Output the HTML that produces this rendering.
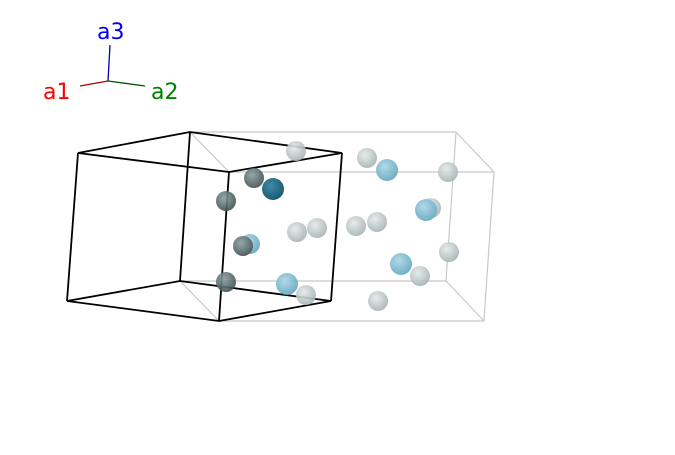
<!DOCTYPE html>
<html><head><meta charset="utf-8"><style>
html,body{margin:0;padding:0;background:#fff;width:675px;height:455px;overflow:hidden}
svg{display:block}
text{font-family:"DejaVu Sans","Liberation Sans",sans-serif;font-size:22px}
</style></head><body>
<svg width="675" height="455" viewBox="0 0 675 455">
<defs>
<radialGradient id="lg" cx="0.4" cy="0.35" r="0.7"><stop offset="0" stop-color="#e4eaea"/><stop offset="1" stop-color="#a4b0b0"/></radialGradient>
<radialGradient id="lb" cx="0.4" cy="0.35" r="0.7"><stop offset="0" stop-color="#a8d6e6"/><stop offset="1" stop-color="#5ea4bc"/></radialGradient>
<radialGradient id="dg" cx="0.4" cy="0.35" r="0.7"><stop offset="0" stop-color="#8a9ea0"/><stop offset="1" stop-color="#3c4c4e"/></radialGradient>
<radialGradient id="dt" cx="0.4" cy="0.35" r="0.7"><stop offset="0" stop-color="#2a7e9c"/><stop offset="1" stop-color="#00465e"/></radialGradient>
</defs>
<g stroke="#c8c8c8" stroke-width="1.2" fill="none">
<line x1="190" y1="132" x2="456" y2="132"/><line x1="456" y1="132" x2="494" y2="172"/>
<line x1="494" y1="172" x2="484" y2="321"/><line x1="456" y1="132" x2="446" y2="281"/>
<line x1="446" y1="281" x2="484" y2="321"/><line x1="219" y1="321" x2="484" y2="321"/>
<line x1="229" y1="172" x2="494" y2="172"/><line x1="180" y1="281" x2="446" y2="281"/>
<line x1="190" y1="132" x2="229" y2="172"/><line x1="180" y1="281" x2="219" y2="321"/>
</g>
<g stroke="#000" stroke-width="1.8" fill="none">
<polygon points="78,153 190,132 342,153 229,172"/>
<polygon points="67,301 180,281 331,301 219,321"/>
<line x1="78" y1="153" x2="67" y2="301"/><line x1="190" y1="132" x2="180" y2="281"/>
<line x1="342" y1="153" x2="331" y2="301"/><line x1="229" y1="172" x2="219" y2="321"/>
</g>
<g opacity="0.9">
<circle cx="296" cy="151" r="10" fill="url(#lg)"/>
<circle cx="367" cy="158" r="10" fill="url(#lg)"/>
<circle cx="387" cy="170" r="11" fill="url(#lb)"/>
<circle cx="448" cy="172" r="10" fill="url(#lg)"/>
<circle cx="254" cy="178" r="10" fill="url(#dg)"/>
<circle cx="273" cy="189" r="11" fill="url(#dt)"/>
<circle cx="226" cy="201" r="10" fill="url(#dg)"/>
<circle cx="431" cy="208" r="10" fill="url(#lg)"/>
<circle cx="426" cy="210" r="11" fill="url(#lb)"/>
<circle cx="297" cy="232" r="10" fill="url(#lg)"/>
<circle cx="317" cy="228" r="10" fill="url(#lg)"/>
<circle cx="356" cy="226" r="10" fill="url(#lg)"/>
<circle cx="377" cy="222" r="10" fill="url(#lg)"/>
<circle cx="250" cy="244" r="10" fill="url(#lb)"/>
<circle cx="243" cy="246" r="10" fill="url(#dg)"/>
<circle cx="449" cy="252" r="10" fill="url(#lg)"/>
<circle cx="401" cy="264" r="11" fill="url(#lb)"/>
<circle cx="420" cy="276" r="10" fill="url(#lg)"/>
<circle cx="226" cy="282" r="10" fill="url(#dg)"/>
<circle cx="287" cy="284" r="11" fill="url(#lb)"/>
<circle cx="306" cy="295" r="10" fill="url(#lg)"/>
<circle cx="378" cy="301" r="10" fill="url(#lg)"/>
</g>
<line x1="108" y1="81" x2="110" y2="45" stroke="#0000aa" stroke-width="1.3"/>
<line x1="108" y1="81" x2="80" y2="86" stroke="#aa0000" stroke-width="1.3"/>
<line x1="108" y1="81" x2="145" y2="86" stroke="#005500" stroke-width="1.3"/>
<text x="97" y="39" fill="#0000ff">a3</text>
<text x="43" y="99" fill="#ff0000">a1</text>
<text x="151" y="99" fill="#008000">a2</text>
</svg>
</body></html>
